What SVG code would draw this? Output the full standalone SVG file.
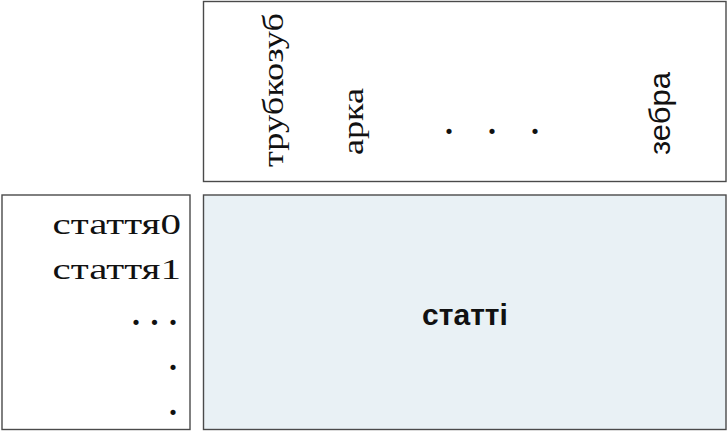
<svg xmlns="http://www.w3.org/2000/svg" width="728" height="431" viewBox="0 0 728 431">
<style>
.box{fill:#ffffff;stroke:#4a4a4a;stroke-width:1.4}
.main{fill:#e9f1f5;stroke:#4a4a4a;stroke-width:1.4}
.ser{font-family:"Liberation Serif","Times New Roman",serif;fill:#111}
.sans{font-family:"Liberation Sans",Arial,sans-serif;fill:#111}
.lbl{font-size:30px}
.vert{font-size:29px}
.dot{font-family:"Liberation Serif","Times New Roman",serif;font-weight:bold;font-size:32px;fill:#111}
.bold{font-family:"Liberation Sans",Arial,sans-serif;font-weight:bold;font-size:30px;fill:#111}
</style>
<rect width="728" height="431" fill="#ffffff"/>
<g id="words">
<rect class="box" x="203.5" y="1.5" width="522.5" height="180"/>
<text class="ser vert" transform="translate(283,167) rotate(-90)" textLength="154" lengthAdjust="spacingAndGlyphs">трубкозуб</text>
<text class="ser vert" transform="translate(363,155) rotate(-90)" textLength="67" lengthAdjust="spacingAndGlyphs">арка</text>
<text class="dot" x="449 492 535" y="133.5" text-anchor="middle">...</text>
<text class="sans vert" transform="translate(670,155) rotate(-90)" textLength="83" lengthAdjust="spacingAndGlyphs">зебра</text>
</g>
<g id="index">
<rect class="box" x="2" y="195" width="188" height="234.5"/>
<text class="ser lbl" x="52.5" y="234" textLength="128.5" lengthAdjust="spacingAndGlyphs">стаття0</text>
<text class="ser lbl" x="52.5" y="279" textLength="128.5" lengthAdjust="spacingAndGlyphs">стаття1</text>
<text class="dot" x="136 154.5 173" y="324.5" text-anchor="middle">...</text>
<text class="dot" x="173" y="369.5" text-anchor="middle">.</text>
<text class="dot" x="173" y="415" text-anchor="middle">.</text>
</g>
<g id="articles">
<rect class="main" x="203.5" y="195" width="522.5" height="234.5"/>
<text class="bold" x="465" y="325" text-anchor="middle">статті</text>
</g>
<g id="connectors"></g>
</svg>
